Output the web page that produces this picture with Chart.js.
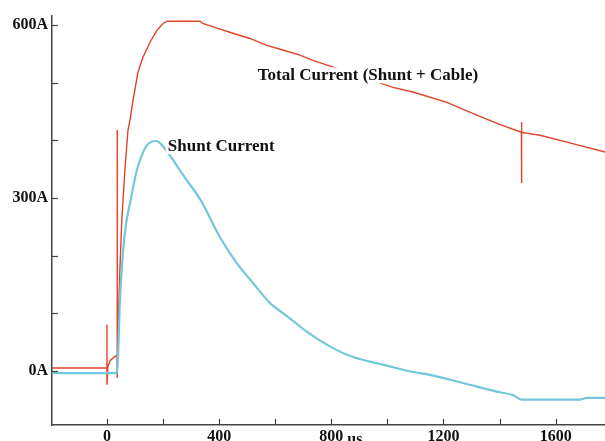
<!DOCTYPE html>
<html>
<head>
<meta charset="utf-8">
<script src="https://cdn.jsdelivr.net/npm/chart.js@4/dist/chart.umd.min.js"></script>
<style>
  body { margin: 0; background: #fff; }
  canvas { display: block; }
</style>
</head>
<body>
<canvas id="myChart" width="605" height="441"></canvas>
<script>
// time in us, current in A
let totalTimes = [-196, 0, 0, 0, 3, 12, 30, 36, 36, 36, 38, 46, 53, 64, 75, 82, 93, 110, 128, 153, 178, 200, 214, 332, 342, 392, 449, 510, 570, 627, 688, 734, 820, 1020, 1091, 1212, 1319, 1400, 1478, 1478, 1478, 1480, 1544, 1640, 1776];
let totalAmps = [5, 5, 80, -24, 8, 18, 26, 26, 418, -12, 31, 175, 262, 349, 418, 435, 470, 517, 544, 570, 591, 603, 607, 607, 603, 595, 586, 577, 565, 557, 548, 539, 525, 492, 484, 466, 444, 428, 414, 432, 326, 414, 409, 397, 380];

let shuntTimes = [-196, 36, 40, 46, 57, 68, 82, 107, 125, 143, 160, 171, 185, 196, 230, 271, 332, 403, 463, 520, 581, 642, 699, 759, 820, 877, 938, 998, 1055, 1091, 1152, 1269, 1390, 1447, 1479, 1686, 1711, 1776];
let shuntAmps = [-4, -4, 30, 120, 205, 255, 291, 349, 375, 392, 398, 399, 397, 392, 370, 340, 298, 232, 187, 153, 118, 95, 73, 53, 36, 24, 16, 9, 2, -2, -7, -21, -36, -42, -50, -50, -47, -47];

// tick marks every 200 us / 100 A, labels only on some of them
let xTickValues = [0, 200, 400, 600, 800, 1000, 1200, 1400, 1600];
let xTickLabels = [0, 400, 800, 1200, 1600];
let yTickValues = [0, 100, 200, 300, 400, 500, 600];
let yTickLabels = [0, 300, 600];

let labelFont = 'bold 16px "Liberation Serif", "DejaVu Serif", serif';
let noteFont = 'bold 17px "Liberation Serif", "DejaVu Serif", serif';

function toPoints(xs, ys) {
  let pts = [];
  for (let i = 0; i < xs.length; i++) {
    pts.push({ x: xs[i], y: ys[i] });
  }
  return pts;
}

// inward tick marks, the "us" unit and the two trace labels
const scopeExtras = {
  id: 'scopeExtras',
  afterDatasetsDraw(chart) {
    let ctx = chart.ctx;
    let xs = chart.scales.x;
    let ys = chart.scales.y;
    let area = chart.chartArea;

    ctx.save();
    ctx.strokeStyle = '#444';
    ctx.lineWidth = 1.2;
    xs.ticks.forEach(t => {
      let px = Math.round(xs.getPixelForValue(t.value)) + 0.5;
      ctx.beginPath();
      ctx.moveTo(px, area.bottom);
      ctx.lineTo(px, area.bottom - 6);
      ctx.stroke();
    });
    ys.ticks.forEach(t => {
      let py = Math.round(ys.getPixelForValue(t.value)) + 0.5;
      ctx.beginPath();
      ctx.moveTo(area.left, py);
      ctx.lineTo(area.left + 6, py);
      ctx.stroke();
    });

    ctx.font = noteFont;
    ctx.textBaseline = 'middle';
    ctx.textAlign = 'left';
    let notes = [
      { text: 'Shunt Current', x: xs.getPixelForValue(217), y: ys.getPixelForValue(390) },
      { text: 'Total Current (Shunt + Cable)', x: xs.getPixelForValue(538), y: ys.getPixelForValue(513) }
    ];
    notes.forEach(n => {
      let w = ctx.measureText(n.text).width;
      ctx.fillStyle = '#fff';
      ctx.fillRect(n.x - 2, n.y - 8, w + 4, 16);
      ctx.fillStyle = '#111';
      ctx.fillText(n.text, n.x, n.y);
    });

    ctx.font = labelFont;
    ctx.textBaseline = 'top';
    ctx.fillText('us', xs.getPixelForValue(800) + 16, area.bottom + 7);
    ctx.restore();
  }
};

let canvasChart = document.getElementById('myChart');
let chart = new Chart(canvasChart, {
  type: 'scatter',
  data: {
    datasets: [
      {
        label: 'Shunt Current',
        data: toPoints(shuntTimes, shuntAmps),
        showLine: true,
        borderColor: '#72c7da',
        borderWidth: 2.2,
        pointRadius: 0,
        cubicInterpolationMode: 'monotone'
      },
      {
        label: 'Total Current (Shunt + Cable)',
        data: toPoints(totalTimes, totalAmps),
        showLine: true,
        borderColor: '#e2412b',
        borderWidth: 1.4,
        pointRadius: 0,
        tension: 0
      }
    ]
  },
  options: {
    responsive: false,
    animation: false,
    layout: { padding: { top: 16, left: 0, right: 0, bottom: 0 } },
    plugins: {
      legend: { display: false },
      tooltip: { enabled: false }
    },
    scales: {
      x: {
        type: 'linear',
        min: -196,
        max: 1776,
        grid: { display: false, drawTicks: false },
        border: { display: true, color: '#444', width: 1.5 },
        afterBuildTicks: scale => { scale.ticks = xTickValues.map(v => ({ value: v })); },
        ticks: {
          autoSkip: false,
          maxRotation: 0,
          padding: 2,
          color: '#111',
          font: { family: '"Liberation Serif", serif', size: 16, weight: 'bold' },
          callback: v => xTickLabels.includes(v) ? String(v) : ''
        },
        afterFit: scale => { scale.height = 16; }
      },
      y: {
        min: -94,
        max: 616,
        grid: { display: false, drawTicks: false },
        border: { display: true, color: '#444', width: 1.5 },
        afterBuildTicks: scale => { scale.ticks = yTickValues.map(v => ({ value: v })); },
        ticks: {
          autoSkip: false,
          padding: 4,
          color: '#111',
          font: { family: '"Liberation Serif", serif', size: 16, weight: 'bold' },
          callback: v => yTickLabels.includes(v) ? v + 'A' : ''
        },
        afterFit: scale => { scale.width = 52; }
      }
    }
  },
  plugins: [scopeExtras]
});
</script>
</body>
</html>
